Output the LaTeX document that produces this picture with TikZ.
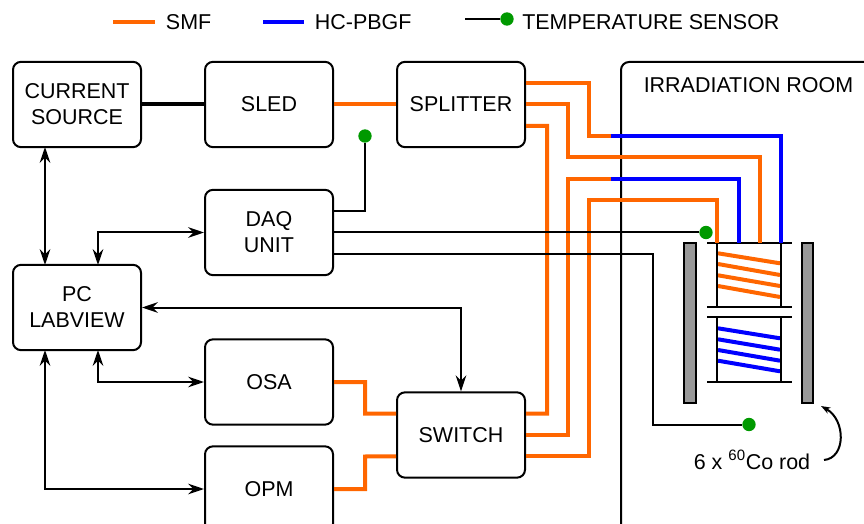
\documentclass[tikz,border=0pt]{standalone}
\usepackage{fontspec}
\setmainfont{Liberation Sans}
\usepackage{xcolor}
\usepackage{tikz}
\usetikzlibrary{arrows.meta}
\definecolor{smfc}{HTML}{FF6600}
\definecolor{hcfc}{HTML}{0000FF}
\definecolor{senc}{HTML}{009900}
\definecolor{rodc}{HTML}{999999}
\tikzset{
  box/.style={draw,line width=1.5pt,rounded corners=6pt,align=center,minimum width=96pt,minimum height=64pt,inner sep=0pt,font=\fontsize{16.1}{19.5}\selectfont},
  lab/.style={inner sep=8pt,font=\fontsize{16.1}{19.5}\selectfont},
  smf/.style={line width=3pt,smfc},
  hcf/.style={line width=3pt,hcfc},
  sig/.style={line width=1.5pt},
  ar/.style={line width=1.5pt,{Stealth[length=12pt,width=8pt,inset=4pt]}-{Stealth[length=12pt,width=8pt,inset=4pt]}},
  sen/.style={circle,fill=senc,minimum size=10pt,inner sep=0pt},
  rod/.style={draw,line width=1.5pt,fill=rodc}
}
\begin{document}
\begin{tikzpicture}[x=0.75pt,y=-0.75pt]
\path[use as bounding box,clip] (0,0) rectangle (864,524);
% irradiation room
\draw[line width=1.5pt,rounded corners=6pt] (621,540) -- (621,62) -- (880,62);
\node[lab,inner sep=0pt] (room) at (748.5,85) {IRRADIATION ROOM};
% boxes
\node[box] (cur) at (77,104.5) {CURRENT\\SOURCE};
\node[box] (sled) at (269,104.5) {SLED};
\node[box] (split) at (461,104.5) {SPLITTER};
\node[box] (daq) at (269,232.5) {DAQ\\UNIT};
\node[box] (pc) at (77,307.5) {PC\\LABVIEW};
\node[box] (osa) at (269,382) {OSA};
\node[box] (opm) at (269,489) {OPM};
\node[box] (sw) at (461,435) {SWITCH};
% spools and rods
\node[minimum width=48pt,minimum height=48pt,inner sep=0pt] (up) at (749,275) {};
\node[minimum width=48pt,minimum height=48pt,inner sep=0pt] (lo) at (749,349.5) {};
\draw[rod] (684,243) rectangle (696,403);
\draw[rod] (802,243) rectangle (813,403);
\foreach \ya/\yb in {253.3/263.3,264/275,275.3/286,286/297}
  \draw[smf] (718,\ya) -- (780,\yb);
\foreach \ya/\yb in {328.3/338.3,339.3/349.7,350/360.7,360.7/371.3}
  \draw[hcf] (718,\ya) -- (780,\yb);
\draw[sig] (up.north west) -- (up.south west) (up.north east) -- (up.south east);
\draw[sig] (lo.north west) -- (lo.south west) (lo.north east) -- (lo.south east);
\foreach \y in {243,307,317,381.7}
  \draw[sig] (707,\y) -- (792,\y);
% fibres
\draw[line width=3pt] (cur) -- (sled);
\draw[smf] (sled) -- (split);
\draw[smf] ([yshift=16pt]split.east) -| (589,136) -- (611,136);
\draw[hcf] (611,136) -| (up.north east);
\draw[smf] (split.east) -| (568,157.5) -| ([xshift=32.25pt]up.north west);
\draw[smf] ([yshift=-16pt]split.east) -| (547,413.7) -- ([yshift=16pt]sw.east);
\draw[smf] (sw.east) -| (568,179) -- (611,179);
\draw[hcf] (611,179) -| ([xshift=16.5pt]up.north west);
\draw[smf] ([yshift=-16pt]sw.east) -| (589,200.5) -| (up.north west);
\draw[smf] (osa.east) -| (365,413.7) -- ([yshift=16pt]sw.west);
\draw[smf] (opm.east) -| (365,456.5) -- ([yshift=-16pt]sw.west);
% sensors
\node[sen] (ts1) at (365,136) {};
\node[sen] (ts2) at (706,232.5) {};
\node[sen] (ts3) at (749,424.5) {};
\draw[sig] ([yshift=16pt]daq.east) -| (ts1);
\draw[sig] (daq.east) -- (ts2);
\draw[sig] ([yshift=-16pt]daq.east) -| (653,424.5) -- (ts3);
% control lines
\draw[ar] (45,147) -- (45,265);
\draw[ar] (98,265) |- (daq.west);
\draw[ar] (pc.east) -| (sw.north);
\draw[ar] (98,350) |- (osa.west);
\draw[ar] (45,350) |- (opm.west);
% co rod
\node[lab,inner sep=0pt] (co) at (752,460) {6 x \textsuperscript{60}Co rod};
\draw[line width=1.5pt,-{Stealth[length=7pt,width=5pt,inset=2pt]}] (824,460) .. controls (846,458) and (846,420) .. (821,406);
% legend
\coordinate (l1) at (113,22);
\coordinate (l2) at (263,22);
\coordinate (l3) at (465,19);
\node[lab,anchor=west] (lsmf) at (155,22) {SMF};
\node[lab,anchor=west] (lhcf) at (304,22) {HC-PBGF};
\node[sen] (lsen) at (507,19) {};
\node[lab,anchor=west,inner sep=0pt] (ltem) at (522,22) {TEMPERATURE SENSOR};
\draw[smf] (l1) -- (lsmf);
\draw[hcf] (l2) -- (lhcf);
\draw[sig] (l3) -- (lsen);
\end{tikzpicture}
\end{document}
